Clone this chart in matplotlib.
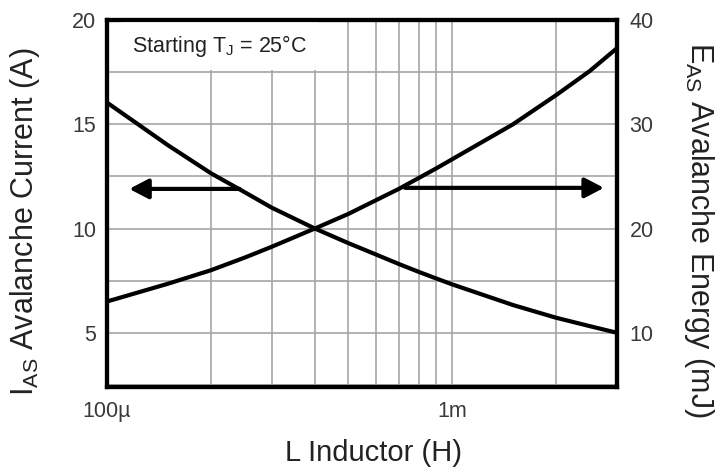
import matplotlib
matplotlib.use("Agg")
import matplotlib.pyplot as plt
from matplotlib.ticker import FixedLocator, NullFormatter

plt.rcParams['font.family'] = ['Liberation Sans', 'DejaVu Sans']
plt.rcParams['mathtext.fontset'] = 'custom'
plt.rcParams['mathtext.rm'] = 'Liberation Sans'
plt.rcParams['mathtext.it'] = 'Liberation Sans'

# values
inductance = [1e-4, 1.5e-4, 2e-4, 2.5e-4, 3e-4, 4e-4, 5e-4, 6e-4, 7e-4, 8e-4, 9e-4,
              1e-3, 1.5e-3, 2e-3, 2.5e-3, 3e-3]
current_a = [16.04, 14.0, 12.65, 11.75, 11.0, 10.0, 9.3, 8.76, 8.3, 7.92, 7.6,
             7.32, 6.33, 5.72, 5.32, 5.0]
energy_mj = [13.0, 14.7, 16.0, 17.2, 18.25, 20.0, 21.4, 22.7, 23.8, 24.85, 25.78,
             26.65, 30.0, 32.8, 35.1, 37.3]

x_ticks = [1e-4, 1e-3]
x_tick_labels = ["100\u00b5", "1m"]
x_grid = [2e-4, 3e-4, 4e-4, 5e-4, 6e-4, 7e-4, 8e-4, 9e-4, 2e-3]
left_ticks = [5, 10, 15, 20]
left_grid = [2.5, 7.5, 12.5, 17.5]
right_ticks = [10, 20, 30, 40]

grid_col = "#a6a6a6"
text_col = "#3a3a3a"

fig = plt.figure(figsize=(7.25, 4.68), dpi=100)
ax = fig.add_axes([107 / 725, 1 - 387 / 468, 510 / 725, 367 / 468])
ax2 = ax.twinx()

ax.set_xscale("log")
ax.set_xlim(1e-4, 3e-3)
ax.set_ylim(2.4, 20)
ax2.set_ylim(4.8, 40)

ax.xaxis.set_major_locator(FixedLocator(x_ticks))
ax.set_xticklabels(x_tick_labels)
ax.xaxis.set_minor_locator(FixedLocator(x_grid))
ax.xaxis.set_minor_formatter(NullFormatter())
ax.yaxis.set_major_locator(FixedLocator(left_ticks))
ax.yaxis.set_minor_locator(FixedLocator(left_grid))
ax2.yaxis.set_major_locator(FixedLocator(right_ticks))

ax.grid(True, which="both", color=grid_col, linewidth=1.2)
ax.tick_params(which="both", length=0, labelsize=15.5, labelcolor=text_col, pad=8)
ax.tick_params(axis="x", pad=10)
ax2.tick_params(which="both", length=0, labelsize=15.5, labelcolor=text_col, pad=9)

for a in (ax, ax2):
    for s in a.spines.values():
        s.set_linewidth(3)
        s.set_color("black")

ax.plot(inductance, current_a, color="black", linewidth=3, zorder=5)
ax2.plot(inductance, energy_mj, color="black", linewidth=3, zorder=5)

# arrows pointing to each curve's axis
arrow = dict(arrowstyle="-|>,head_length=1.15,head_width=0.6", color="black",
             linewidth=3, shrinkA=0, shrinkB=0)
ax.annotate("", xy=(1.16e-4, 11.9), xytext=(2.42e-4, 11.9), arrowprops=arrow, zorder=6)
ax.annotate("", xy=(2.75e-3, 11.95), xytext=(7.3e-4, 11.95), arrowprops=arrow, zorder=6)

ax.text(1.18e-4, 18.75, r"Starting T$_{\rm J}$ = 25°C", fontsize=15.5, color="#222222",
        va="center", ha="left", zorder=4,
        bbox=dict(facecolor="white", edgecolor="none", boxstyle="square,pad=0.5"))

ax.set_xlabel("L Inductor (H)", fontsize=21, color="#222222")
ax.xaxis.set_label_coords(0.522, -0.142)
ax.set_ylabel(r"I$_{\rm AS}$ Avalanche Current (A)", fontsize=22, color="#222222")
ax.yaxis.set_label_coords(-0.128, 0.45)
ax2.set_ylabel(r"E$_{\rm AS}$ Avalanche Energy (mJ)", fontsize=22, color="#222222",
               rotation=270)
ax2.yaxis.set_label_coords(1.195, 0.428)

fig.savefig("out.png", dpi=100)
